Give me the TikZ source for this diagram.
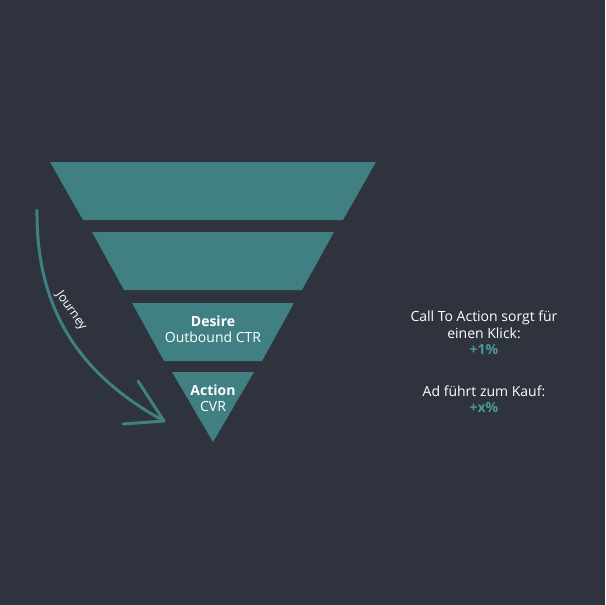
\documentclass[tikz,border=0pt]{standalone}
\usepackage{fontspec}
\setmainfont{Open Sans}
\definecolor{bg}{HTML}{2E333D}
\definecolor{teal}{HTML}{408083}
\definecolor{tealtext}{HTML}{4A9898}
\begin{document}
\begin{tikzpicture}[x=1pt,y=-1pt,
  band/.style={fill=teal,draw=none},
  lbl/.style={text=white,align=center,font=\fontsize{14}{16}\selectfont,inner sep=0pt},
  side/.style={text=white,align=center,font=\fontsize{14}{16.5}\selectfont,inner sep=0pt},
  curve/.style={draw=teal,line width=3pt,line cap=round,line join=round}]
\fill[bg] (0,0) rectangle (605,605);
\useasboundingbox (0,0) rectangle (605,605);
% funnel bands: half-width = 0.582*(442-y), centre x=213
\path[band] (50,162) -- (376,162) -- (343,220) -- (83,220) -- cycle;
\path[band] (92,232) -- (334,232) -- (302,290) -- (124,290) -- cycle;
\path[band] (132,303) -- (294,303) -- (262,361) -- (164,361) -- cycle;
\path[band] (172,372) -- (254,372) -- (213,442) -- cycle;
% labels
\node[lbl] (desire) at (213,329) {\textbf{Desire}\\Outbound CTR};
\node[lbl] (action) at (213,398) {\textbf{Action}\\CVR};
% right texts
\node[side] (cta) at (484,333) {Call To Action sorgt für\\einen Klick:\\\textcolor{tealtext}{\textbf{+1\%}}};
\node[side] (ad) at (484,399) {Ad führt zum Kauf:\\\textcolor{tealtext}{\textbf{+x\%}}};
% journey arrow
\coordinate (js) at (37,210);
\coordinate (je) at (164,421);
\coordinate (h1) at (138,381);
\coordinate (h2) at (123,424);
\draw[curve] (js) .. controls (36,310) and (80,375) .. (je);
\draw[curve] (h1) -- (je) -- (h2);
\node[text=white,font=\fontsize{12.5}{14}\selectfont,rotate=-55,inner sep=0pt] (journey) at (71,311) {Journey};
\end{tikzpicture}
\end{document}
